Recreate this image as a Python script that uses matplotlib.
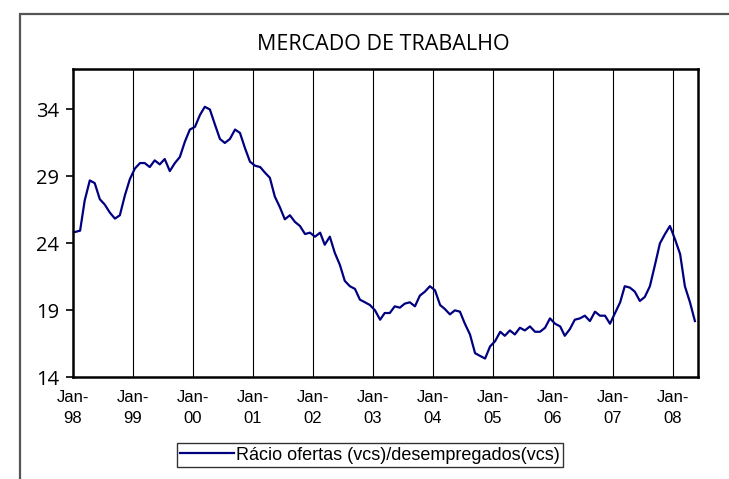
import numpy as np
import pandas as pd
import matplotlib.pyplot as plt
import matplotlib.dates as mdates
from matplotlib.patches import Rectangle

# Rácio ofertas/desempregados, mensal Jan-98 .. Mai-08
start = '1998-01'
ratio = [24.85, 24.95, 27.2, 28.7, 28.5, 27.3, 26.9, 26.3, 25.85, 26.1, 27.6, 28.8,
         29.6, 30.0, 30.0, 29.7, 30.2, 29.9, 30.3, 29.4, 30.0, 30.45, 31.6, 32.5,
         32.7, 33.6, 34.2, 34.0, 32.9, 31.8, 31.5, 31.8, 32.5, 32.25, 31.1, 30.1,
         29.8, 29.7, 29.3, 28.9, 27.5, 26.7, 25.8, 26.1, 25.6, 25.3, 24.7, 24.8,
         24.5, 24.8, 23.9, 24.5, 23.3, 22.4, 21.2, 20.8, 20.6, 19.8, 19.6, 19.4,
         19.0, 18.3, 18.8, 18.8, 19.3, 19.2, 19.5, 19.6, 19.3, 20.1, 20.4, 20.8,
         20.5, 19.4, 19.1, 18.7, 19.0, 18.9, 18.0, 17.2, 15.8, 15.6, 15.4, 16.3,
         16.7, 17.4, 17.1, 17.5, 17.2, 17.7, 17.5, 17.8, 17.4, 17.4, 17.7, 18.4,
         18.0, 17.8, 17.1, 17.6, 18.3, 18.4, 18.6, 18.2, 18.9, 18.6, 18.6, 18.0,
         18.8, 19.6, 20.8, 20.7, 20.4, 19.7, 20.0, 20.8, 22.4, 24.0, 24.7, 25.3,
         24.3, 23.2, 20.8, 19.6, 18.2]
yticks = [14, 19, 24, 29, 34]
years = ['98', '99', '00', '01', '02', '03', '04', '05', '06', '07', '08']

dates = pd.date_range(start, periods=len(ratio), freq='MS') + pd.Timedelta(days=14)
jan = pd.to_datetime(['19%s-01-01' % y if int(y) > 50 else '20%s-01-01' % y for y in years])

fig = plt.figure(figsize=(7.29, 4.79), dpi=100)
ax = fig.add_axes([72.7/729, 1-377.3/479, 625/729, 308/479])

# moldura da área do gráfico
fig.patches.append(Rectangle((19.5/729, -0.1), 1.0, 1-14/479+0.1, transform=fig.transFigure,
                             fill=False, edgecolor='#555555', linewidth=1.6))

ax.plot(dates, ratio, color='#000080', linewidth=1.6,
        label='Rácio ofertas (vcs)/desempregados(vcs)')

for d in jan[1:]:
    ax.axvline(d, color='black', linewidth=0.8, zorder=0)

ax.set_xlim(pd.Timestamp('1998-01-01'), pd.Timestamp('2008-06-01'))
ax.set_ylim(14, 37)
ax.set_yticks(yticks)
ax.set_yticklabels([str(v) for v in yticks], fontsize=14.5, family=['Open Sans', 'DejaVu Sans'])
ax.set_xticks(jan)
ax.set_xticklabels(['Jan-\n' + y for y in years], fontsize=12, family=['Liberation Sans', 'DejaVu Sans'],
                   linespacing=1.5)
ax.tick_params(axis='x', length=0, pad=9)
ax.tick_params(axis='y', length=5, width=1.2, direction='out', pad=5)
for s in ax.spines.values():
    s.set_linewidth(1.8)

fig.text(383/729, 1-45/479, 'MERCADO DE TRABALHO', ha='center', va='center',
         fontsize=15.5, family=['Open Sans', 'DejaVu Sans'])

leg = ax.legend(loc='center', bbox_to_anchor=(370/729, 1-455/479), bbox_transform=fig.transFigure,
                prop={'family': ['Liberation Sans', 'DejaVu Sans'], 'size': 13},
                frameon=True, fancybox=False, handlelength=3.0, handletextpad=0.1,
                borderpad=0.2, borderaxespad=0)
leg.get_frame().set_edgecolor('black')
leg.get_frame().set_linewidth(1.0)

fig.savefig('out.png', dpi=100)
